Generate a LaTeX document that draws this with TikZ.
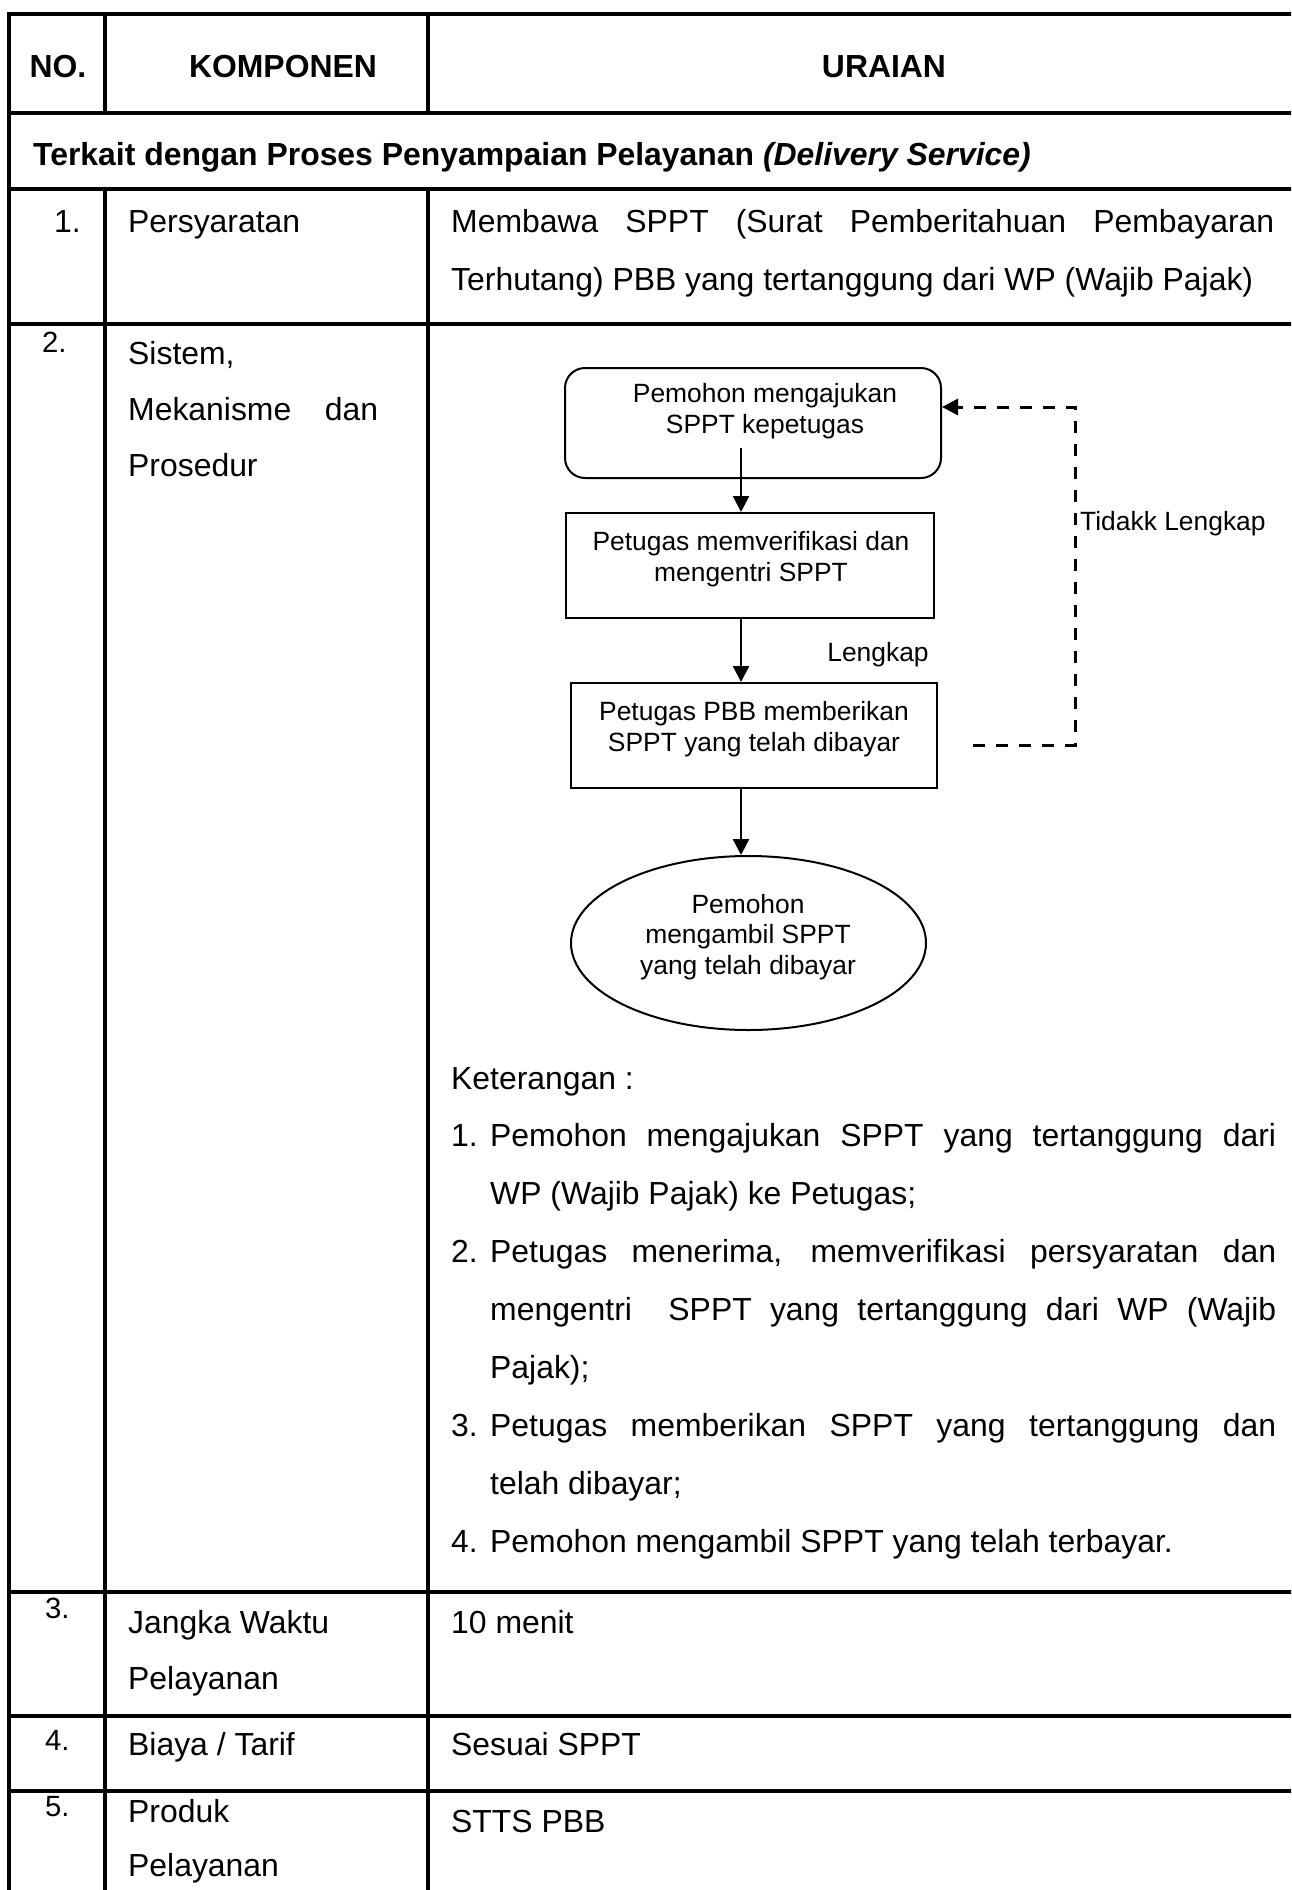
\documentclass[tikz,border=0pt]{standalone}
\usepackage{fontspec}
\setmainfont{Liberation Sans}
\usetikzlibrary{arrows.meta,shapes.geometric}

\tikzset{
  grid/.style={line width=4pt, line cap=rect},
  body/.style={anchor=base west, inner sep=0pt, font=\fontsize{31.9}{38}\selectfont},
  num/.style={anchor=base west, inner sep=0pt, font=\fontsize{29.3}{35}\selectfont},
  head/.style={anchor=base, inner sep=0pt, font=\fontsize{31.9}{38}\selectfont\bfseries},
  ftext/.style={align=center, inner sep=0pt, font=\fontsize{26.4}{30.5}\selectfont},
  fbox/.style={draw, line width=2pt, inner sep=0pt},
  flow/.style={line width=2.4pt, -{Triangle[width=16pt,length=16pt]}},
  back/.style={line width=3pt, dash pattern=on 12pt off 11pt, -{Triangle[width=16pt,length=16pt]}}
}

\begin{document}
\begin{tikzpicture}[x=1pt,y=-1pt]
\useasboundingbox (0,0) rectangle (1291,1890);
\clip (0,0) rectangle (1291,1890);

% table rules
\draw[grid] (9,1900) -- (9,14) -- (1300,14);
\draw[grid] (9,113) -- (1300,113);
\draw[grid] (9,189) -- (1300,189);
\draw[grid] (9,324) -- (1300,324);
\draw[grid] (9,1592) -- (1300,1592);
\draw[grid] (9,1716) -- (1300,1716);
\draw[grid] (9,1791) -- (1300,1791);
\draw[grid] (105,14) -- (105,113);
\draw[grid] (105,189) -- (105,1900);
\draw[grid] (428,14) -- (428,113);
\draw[grid] (428,189) -- (428,1900);

% header
\node[head] (hno) at (58,77) {NO.};
\node[head] (hkomp) at (283,77) {KOMPONEN};
\node[head] (hurai) at (884,77) {URAIAN};
\node[head, anchor=base west] (sect) at (33,165)
  {Terkait dengan Proses Penyampaian Pelayanan \textit{(Delivery Service)}};

% row 1
\node[body] (n1) at (54,232) {1.};
\node[body] (k1) at (128,232) {Persyaratan};
\node[body] (u1a) at (451,232) {\makebox[823pt][s]{Membawa SPPT (Surat Pemberitahuan Pembayaran}};
\node[body] (u1b) at (451,290) {Terhutang) PBB yang tertanggung dari WP (Wajib Pajak)};

% row 2
\node[num] (n2) at (42,352) {2.};
\node[body] (k2a) at (128,364) {Sistem,};
\node[body] (k2b) at (128,420) {\makebox[250pt][s]{Mekanisme dan}};
\node[body] (k2c) at (128,476) {Prosedur};

% flowchart
\node[fbox, rounded corners=20pt, minimum width=376pt, minimum height=110pt] (A) at (753,423) {};
\node[ftext] (At) at (765,411) {Pemohon mengajukan\\SPPT kepetugas};
\node[fbox, minimum width=368pt, minimum height=105pt] (B) at (750,565.5) {};
\node[ftext] (Bt) at (751,559) {Petugas memverifikasi dan\\mengentri SPPT};
\node[fbox, minimum width=366pt, minimum height=105pt] (C) at (754,735.5) {};
\node[ftext] (Ct) at (754,729) {Petugas PBB memberikan\\SPPT yang telah dibayar};
\node[fbox, ellipse, minimum width=355pt, minimum height=174pt] (E) at (748.5,943) {};
\node[ftext] (Et) at (748,937) {Pemohon\\mengambil SPPT\\yang telah dibayar};

\coordinate (a0) at (741,448);
\draw[flow] (a0) -- (a0 |- B.north);
\draw[flow] (a0 |- B.south) -- (a0 |- C.north);
\draw[flow] (a0 |- C.south) -- (a0 |- E.north);
\node[ftext] (lok) at (878,655) {Lengkap};

\coordinate (d0) at (973,745);
\coordinate (d1) at (1075,407);
\draw[back] (d0) -| (d1) -- (A.east |- d1);
\node[ftext, anchor=west] (lnok) at (1080,524) {Tidakk Lengkap};

% explanation list
\node[body] (ket) at (451,1089) {Keterangan :};
\node[body] (i1) at (451,1146) {1.};
\node[body] (i1a) at (490,1146) {\makebox[786pt][s]{Pemohon mengajukan SPPT yang tertanggung dari}};
\node[body] (i1b) at (490,1204) {WP (Wajib Pajak) ke Petugas;};
\node[body] (i2) at (451,1262) {2.};
\node[body] (i2a) at (490,1262) {\makebox[786pt][s]{Petugas menerima, memverifikasi persyaratan dan}};
\node[body] (i2b) at (490,1320) {\makebox[786pt][s]{mengentri\ \ SPPT yang tertanggung dari WP (Wajib}};
\node[body] (i2c) at (490,1378) {Pajak);};
\node[body] (i3) at (451,1436) {3.};
\node[body] (i3a) at (490,1436) {\makebox[786pt][s]{Petugas memberikan SPPT yang tertanggung dan}};
\node[body] (i3b) at (490,1494) {telah dibayar;};
\node[body] (i4) at (451,1552) {4.};
\node[body] (i4a) at (490,1552) {Pemohon mengambil SPPT yang telah terbayar.};

% row 3
\node[num] (n3) at (45,1618) {3.};
\node[body] (k3a) at (128,1633) {Jangka Waktu};
\node[body] (k3b) at (128,1689) {Pelayanan};
\node[body] (u3) at (451,1633) {10 menit};

% row 4
\node[num] (n4) at (45,1750) {4.};
\node[body] (k4) at (128,1755) {Biaya / Tarif};
\node[body] (u4) at (451,1755) {Sesuai SPPT};

% row 5
\node[num] (n5) at (45,1816) {5.};
\node[body] (k5a) at (128,1822) {Produk};
\node[body] (k5b) at (128,1876) {Pelayanan};
\node[body] (u5) at (451,1832) {STTS PBB};
\end{tikzpicture}
\end{document}
